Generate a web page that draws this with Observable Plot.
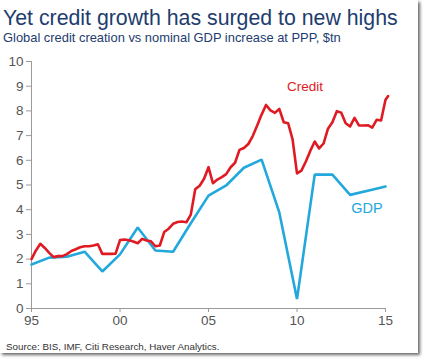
<!DOCTYPE html>
<html>
<head>
<meta charset="utf-8">
<script src="https://cdn.jsdelivr.net/npm/d3@7"></script>
<script src="https://cdn.jsdelivr.net/npm/@observablehq/plot@0.6"></script>
<style>
  html, body { margin: 0; padding: 0; background: #fff; }
  #wrap { position: relative; width: 424px; height: 360px; font-family: "Liberation Sans", Arial, sans-serif; overflow: hidden; }
  #frame { position: absolute; left: 0; top: 0; width: 418px; height: 353px; box-shadow: 2px 2px 3px rgba(0,0,0,0.6); background: #fff; }
  #title { position: absolute; left: 3px; top: 6px; font-size: 21.3px; color: #1d3c6e; white-space: nowrap; }
  #subtitle { position: absolute; left: 3px; top: 30px; font-size: 12.9px; color: #1d3c6e; white-space: nowrap; }
  #chart { position: absolute; left: 0; top: 48px; }
  #source { position: absolute; left: 6px; top: 341px; font-size: 9.8px; color: #333; white-space: nowrap; }
</style>
</head>
<body>
<div id="wrap">
  <div id="frame"></div>
  <div id="title">Yet credit growth has surged to new highs</div>
  <div id="subtitle">Global credit creation vs nominal GDP increase at PPP, $tn</div>
  <div id="chart"></div>
  <div id="source">Source: BIS, IMF, Citi Research, Haver Analytics.</div>
</div>
<script>
// Credit (quarterly, $tn)
const creditYears = [
  1995.00,1995.25,1995.50,1995.75,1996.00,1996.25,1996.50,1996.75,
  1997.00,1997.25,1997.50,1997.75,1998.00,1998.25,1998.50,1998.75,
  1999.00,1999.25,1999.50,1999.75,2000.00,2000.25,2000.50,2000.75,
  2001.00,2001.25,2001.50,2001.75,2002.00,2002.25,2002.50,2002.75,
  2003.00,2003.25,2003.50,2003.75,2004.00,2004.25,2004.50,2004.75,
  2005.00,2005.25,2005.50,2005.75,2006.00,2006.25,2006.50,2006.75,
  2007.00,2007.25,2007.50,2007.75,2008.00,2008.25,2008.50,2008.75,
  2009.00,2009.25,2009.50,2009.75,2010.00,2010.25,2010.50,2010.75,
  2011.00,2011.25,2011.50,2011.75,2012.00,2012.25,2012.50,2012.75,
  2013.00,2013.25,2013.50,2013.75,2014.00,2014.25,2014.50,2014.75,
  2015.00,2015.15
];
const creditValues = [
  2.00,2.35,2.62,2.45,2.25,2.08,2.12,2.12,
  2.20,2.33,2.40,2.48,2.52,2.52,2.55,2.60,
  2.21,2.21,2.21,2.22,2.77,2.79,2.76,2.71,
  2.64,2.82,2.75,2.72,2.52,2.55,3.10,3.23,
  3.43,3.50,3.52,3.49,3.80,4.83,4.97,5.25,
  5.72,5.07,5.22,5.32,5.44,5.72,5.90,6.42,
  6.50,6.66,6.98,7.41,7.85,8.24,8.02,7.92,
  8.08,7.54,7.50,6.85,5.47,5.58,5.95,6.38,
  6.76,6.48,6.68,7.28,7.54,7.99,7.93,7.50,
  7.37,7.72,7.41,7.41,7.42,7.32,7.64,7.61,
  8.45,8.60
];
// GDP (annual, $tn)
const gdpYears = [1995,1996,1997,1998,1999,2000,2001,2002,2003,2004,2005,2006,2007,2008,2009,2010,2011,2012,2013,2014,2015];
const gdpValues = [1.78,2.06,2.10,2.30,1.50,2.19,3.28,2.35,2.30,3.45,4.57,4.98,5.70,6.03,3.89,0.38,5.42,5.42,4.60,4.77,4.94];

const xTicks = [1995, 2000, 2005, 2010, 2015];
const yTicks = [0,1,2,3,4,5,6,7,8,9,10];
const seriesLabels = [
  {name: "Credit", x: 2010.45, y: 9.0},
  {name: "GDP", x: 2013.95, y: 4.05}
];

const credit = creditYears.map((x, i) => ({x, y: creditValues[i]}));
const gdp = gdpYears.map((x, i) => ({x, y: gdpValues[i]}));

const RED = "#e01a22";
const BLUE = "#22a8dc";
const AXIS = "#9a9a9a";

const chart = Plot.plot({
  width: 424,
  height: 285,
  marginLeft: 31,
  marginRight: 39,
  marginTop: 13,
  marginBottom: 25,
  style: {fontFamily: "Liberation Sans, Arial, sans-serif", fontSize: "13px", color: "#555", background: "transparent"},
  x: {domain: [1995, 2015], ticks: xTicks, tickFormat: d => String(d % 100).padStart(2, "0"), tickSize: 4, tickPadding: 4},
  y: {domain: [0, 10], ticks: yTicks, tickSize: 5, tickPadding: 4},
  marks: [
    Plot.axisX({ticks: xTicks, tickFormat: d => String(d % 100).padStart(2, "0"), tickSize: 4, tickPadding: 3, stroke: AXIS, fill: "#555", fontSize: 13.5, label: null}),
    Plot.axisY({ticks: yTicks, tickSize: 5, tickPadding: 3, stroke: AXIS, fill: "#555", fontSize: 13.5, label: null}),
    Plot.ruleY([0], {stroke: AXIS, strokeWidth: 1}),
    Plot.ruleX([1995], {y1: 0, y2: 10, stroke: AXIS, strokeWidth: 1}),
    Plot.line(gdp, {x: "x", y: "y", stroke: BLUE, strokeWidth: 2.6, strokeLinejoin: "miter"}),
    Plot.line(credit, {x: "x", y: "y", stroke: RED, strokeWidth: 2.6}),
    Plot.text(seriesLabels, {x: "x", y: "y", text: "name", fill: d => d.name === "Credit" ? RED : BLUE, fontSize: d => d.name === "Credit" ? 13.5 : 14.5, textAnchor: "middle"})
  ]
});
document.getElementById("chart").appendChild(chart);
</script>
</body>
</html>
